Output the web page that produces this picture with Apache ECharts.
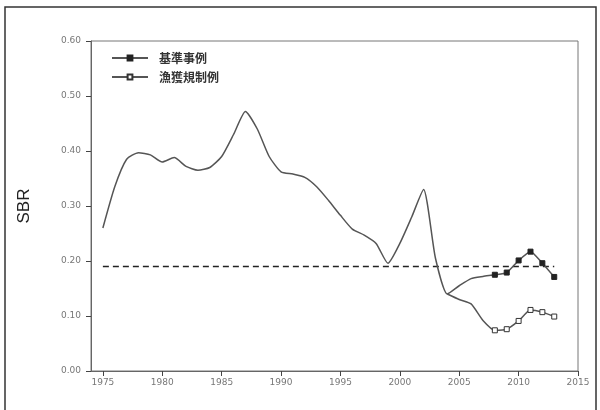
<!DOCTYPE html>
<html>
<head>
<meta charset="utf-8">
<script src="https://cdn.jsdelivr.net/npm/echarts@6/dist/echarts.min.js"></script>
<style>
html,body{margin:0;padding:0;background:#fff;}
#chart{width:600px;height:410px;}
</style>
</head>
<body>
<div id="chart"></div>
<script>
// Spawning biomass ratio by year
var years = [1975,1976,1977,1978,1979,1980,1981,1982,1983,1984,1985,1986,1987,1988,1989,
             1990,1991,1992,1993,1994,1995,1996,1997,1998,1999,2000,2001,2002,2003,2004,
             2005,2006,2007,2008,2009,2010,2011,2012,2013];
var baseSBR = [0.26,0.335,0.385,0.397,0.393,0.38,0.388,0.372,0.365,0.37,0.39,0.43,0.472,0.44,0.39,
               0.362,0.358,0.352,0.335,0.31,0.283,0.258,0.247,0.232,0.196,0.232,0.28,0.33,0.205,0.14,
               0.155,0.168,0.172,0.175,0.179,0.201,0.217,0.196,0.171];
// alternative run, diverging from 2004
var altYears = [2004,2005,2006,2007,2008,2009,2010,2011,2012,2013];
var altSBR = [0.14,0.13,0.122,0.092,0.074,0.076,0.091,0.111,0.107,0.099];
// reference level
var refYears = [1975, 2013];
var refSBR = 0.19;
var markedFrom = 2008;

var xTicks = [1975,1980,1985,1990,1995,2000,2005,2010,2015];
var yTicks = [0,0.1,0.2,0.3,0.4,0.5,0.6];
var seriesNames = ['基準事例', '漁獲規制例'];

function withMarks(xs, ys) {
  return xs.map(function (x, i) {
    return { value: [x, ys[i]], symbol: x >= markedFrom ? 'rect' : 'none' };
  });
}

var chart = echarts.init(document.getElementById('chart'));
chart.setOption({
  backgroundColor: '#fff',
  animation: false,
  graphic: [{
    type: 'rect',
    shape: { x: 5, y: 7, width: 591, height: 420 },
    style: { fill: 'none', stroke: '#333', lineWidth: 1.5 },
    silent: true
  }],
  grid: {
    left: 91, right: 22, top: 41, bottom: 39,
    show: true, borderColor: '#777', borderWidth: 1, backgroundColor: 'transparent'
  },
  legend: {
    orient: 'vertical',
    left: 106, top: 47,
    itemWidth: 36, itemHeight: 6, itemGap: 7,
    textStyle: { fontFamily: 'Noto Sans CJK JP', fontSize: 12, color: '#333', fontWeight: 'bold', padding: [0, 0, 0, 6] },
    data: seriesNames
  },
  xAxis: {
    type: 'value', min: 1974, max: 2015,
    axisLine: { show: true, lineStyle: { color: '#666', width: 1 } },
    axisTick: { show: true, length: 5, inside: false, customValues: xTicks, lineStyle: { color: '#444' } },
    axisLabel: {
      customValues: xTicks, color: '#777', fontSize: 9, margin: 7, fontFamily: 'DejaVu Sans',
      formatter: function (v) { return String(v); }
    },
    splitLine: { show: false }
  },
  yAxis: {
    type: 'value', min: 0, max: 0.6,
    name: 'SBR', nameLocation: 'middle', nameGap: 58,
    nameTextStyle: { fontSize: 17, color: '#222', fontFamily: 'Liberation Sans' },
    axisLine: { show: true, lineStyle: { color: '#666', width: 1 } },
    axisTick: { show: true, length: 5, customValues: yTicks, lineStyle: { color: '#444' } },
    axisLabel: {
      customValues: yTicks, color: '#777', fontSize: 9, margin: 10, fontFamily: 'DejaVu Sans',
      formatter: function (v) { return v.toFixed(2); }
    },
    splitLine: { show: false }
  },
  series: [
    {
      name: seriesNames[0], type: 'line',
      data: withMarks(years, baseSBR),
      smooth: 0.2,
      symbol: 'rect', symbolSize: 5, showAllSymbol: true,
      lineStyle: { color: '#555', width: 1.5 },
      itemStyle: { color: '#222', borderColor: '#222', borderWidth: 1 },
      z: 3
    },
    {
      name: seriesNames[1], type: 'line',
      data: withMarks(altYears, altSBR),
      smooth: 0.2,
      symbol: 'rect', symbolSize: 5, showAllSymbol: true,
      lineStyle: { color: '#555', width: 1.5 },
      itemStyle: { color: '#fff', borderColor: '#333', borderWidth: 1 },
      z: 3
    },
    {
      name: 'ref', type: 'line',
      data: refYears.map(function (y) { return [y, refSBR]; }),
      symbol: 'none',
      lineStyle: { color: '#222', width: 1.5, type: [6, 4] },
      z: 2
    }
  ]
});
</script>
</body>
</html>
